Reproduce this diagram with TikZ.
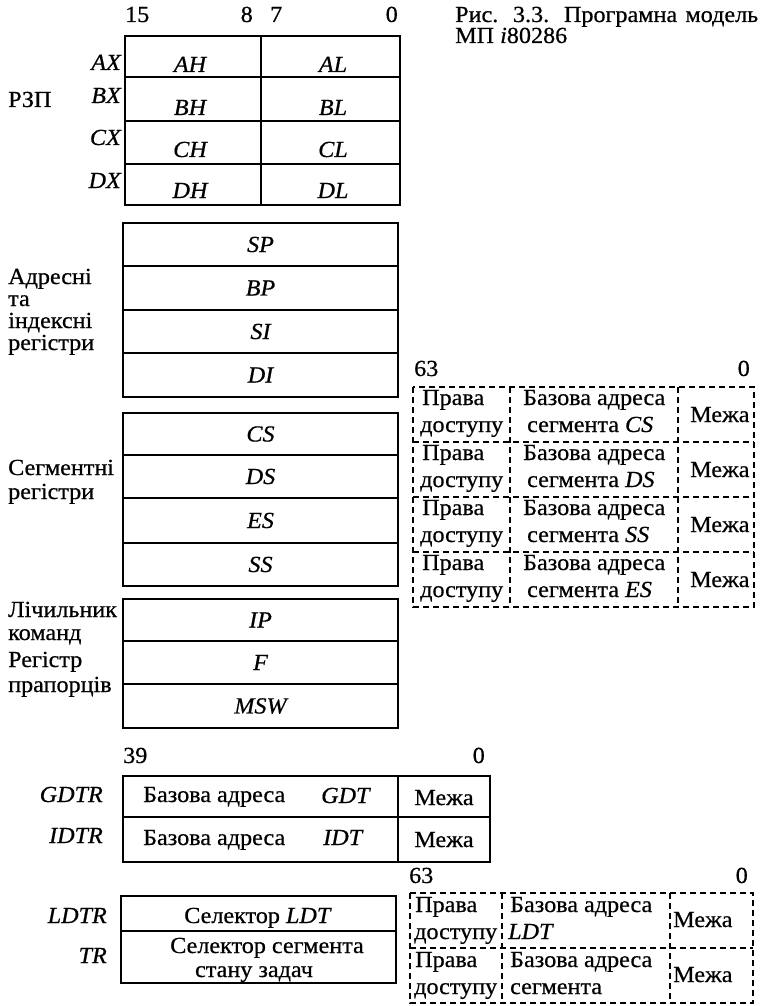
\documentclass[tikz,border=0pt]{standalone}
\usepackage{fontspec}
\setmainfont{Liberation Serif}[FakeStretch=1.05,FakeBold=0.6]
\newcommand\fsz{\fontsize{23}{26}\selectfont}
\begin{document}
\begin{tikzpicture}[x=1pt,y=-1pt,
  every node/.style={inner sep=0pt,font=\fsz},
  txt/.style={anchor=base west},
  txte/.style={anchor=base east},
  txtc/.style={anchor=base},
  reg/.style={font=\fsz\itshape},
  box/.style={line width=1.6pt},
  dbox/.style={line width=1.3pt,dash pattern=on 6pt off 4pt}]
\useasboundingbox (0,0) rectangle (762,1006);
% caption
\node[txt] (cap1) at (455,22) {\makebox[303pt][s]{Рис. 3.3. Програмна модель}};
\node[txt] (cap2) at (455,43) {МП \textit{i}80286};
% bit numbers
\node[txt] (b15) at (125,22) {15};
\node[txte] (b8) at (253,22) {8};
\node[txt] (b7) at (270,22) {7};
\node[txte] (b0) at (398,22) {0};
% general purpose registers
\draw[box] (125,36) rectangle (400,205);
\foreach \y in {77,121,164} \draw[box] (125,\y) -- (400,\y);
\draw[box] (261,36) -- (261,205);
\node[txtc,reg] (AH) at (190,72) {AH};
\node[txtc,reg] (AL) at (333,72) {AL};
\node[txtc,reg] (BH) at (190,115) {BH};
\node[txtc,reg] (BL) at (333,115) {BL};
\node[txtc,reg] (CH) at (190,157) {CH};
\node[txtc,reg] (CL) at (333,157) {CL};
\node[txtc,reg] (DH) at (190,198) {DH};
\node[txtc,reg] (DL) at (333,198) {DL};
\node[txte,reg] (AX) at (121,70) {AX};
\node[txte,reg] (BX) at (121,103) {BX};
\node[txte,reg] (CX) at (121,145) {CX};
\node[txte,reg] (DX) at (121,188) {DX};
\node[txt] (rzp) at (8,107) {РЗП};
% address and index registers
\draw[box] (123,223) rectangle (398,397);
\foreach \y in {266,310,353} \draw[box] (123,\y) -- (398,\y);
\node[reg] (SP) at (260.5,244.5) {SP};
\node[reg] (BP) at (260.5,288) {BP};
\node[reg] (SI) at (260.5,331.5) {SI};
\node[reg] (DI) at (260.5,375) {DI};
\node[txt] (adr1) at (8,284) {Адресні};
\node[txt] (adr2) at (8,306) {та};
\node[txt] (adr3) at (8,328) {індексні};
\node[txt] (adr4) at (8,350) {регістри};
% segment registers
\draw[box] (123,413) rectangle (398,586);
\foreach \y in {455,498,543} \draw[box] (123,\y) -- (398,\y);
\node[reg] (CS) at (260.5,434) {CS};
\node[reg] (DS) at (260.5,476.5) {DS};
\node[reg] (ES) at (260.5,520.5) {ES};
\node[reg] (SS) at (260.5,564.5) {SS};
\node[txt] (seg1) at (8,475) {Сегментні};
\node[txt] (seg2) at (8,499) {регістри};
% IP, F, MSW
\draw[box] (123,599) rectangle (398,728);
\foreach \y in {641,684} \draw[box] (123,\y) -- (398,\y);
\node[reg] (IP) at (260.5,620) {IP};
\node[reg] (F) at (260.5,662.5) {F};
\node[reg] (MSW) at (260.5,706) {MSW};
\node[txt] (lic1) at (8,617) {Лічильник};
\node[txt] (lic2) at (8,640) {команд};
\node[txt] (flg1) at (8,667) {Регістр};
\node[txt] (flg2) at (8,692) {прапорців};
% GDTR / IDTR
\node[txt] (b39) at (123,763) {39};
\node[txte] (b0g) at (485,763) {0};
\draw[box] (123,776) rectangle (490,862);
\draw[box] (123,817) -- (490,817);
\draw[box] (398,776) -- (398,862);
\node[txt] (gba) at (143,802) {Базова адреса};
\node[txt,reg] (gdt) at (321,803) {GDT};
\node[txtc] (gm) at (444,805) {Межа};
\node[txt] (iba) at (143,845) {Базова адреса};
\node[txt,reg] (idt) at (323,845) {IDT};
\node[txtc] (im) at (444,847) {Межа};
\node[txte,reg] (GDTR) at (103,802) {GDTR};
\node[txte,reg] (IDTR) at (103,843) {IDTR};
% LDTR / TR
\draw[box] (121,896) rectangle (396,983);
\draw[box] (121,931) -- (396,931);
\node[txtc] (sl) at (258,923) {Селектор \textit{LDT}};
\node[txtc] (ss1) at (267,953) {Селектор сегмента};
\node[txtc] (ss2) at (254,977) {стану задач};
\node[txte,reg] (LDTR) at (107,923) {LDTR};
\node[txte,reg] (TR) at (107,963) {TR};
% upper descriptor cache (dashed)
\node[txt] (u63) at (414,376) {63};
\node[txte] (u0) at (750,376) {0};
\draw[dbox] (413,387) rectangle (754,607);
\foreach \y in {442,497,552} \draw[dbox] (413,\y) -- (754,\y);
\foreach \x in {510,678} \draw[dbox] (\x,387) -- (\x,607);
\foreach \T/\s [count=\i] in {387/CS,442/DS,497/SS,552/ES} {
  \node[txt] (up\i) at (422,\T+18) {Права};
  \node[txt] (ud\i) at (420,\T+45) {доступу};
  \node[txt] (ub\i) at (523,\T+18) {Базова адреса};
  \node[txt] (us\i) at (527,\T+45) {сегмента \textit{\s}};
  \node[txt] (um\i) at (690,\T+35) {Межа};
}
% lower descriptor cache (dashed)
\node[txt] (l63) at (409,883) {63};
\node[txte] (l0) at (748,883) {0};
\draw[dbox] (410,893) rectangle (753,1003);
\draw[dbox] (410,948) -- (753,948);
\foreach \x in {502,670} \draw[dbox] (\x,893) -- (\x,1003);
\node[txt] (lp1) at (415,912) {Права};
\node[txt] (ld1) at (414,939) {доступу};
\node[txt] (lb1) at (510,912) {Базова адреса};
\node[txt,reg] (ll1) at (508,939) {LDT};
\node[txt] (lm1) at (673,927) {Межа};
\node[txt] (lp2) at (415,967) {Права};
\node[txt] (ld2) at (414,994) {доступу};
\node[txt] (lb2) at (510,967) {Базова адреса};
\node[txt] (ls2) at (510,994) {сегмента};
\node[txt] (lm2) at (673,982) {Межа};
\end{tikzpicture}
\end{document}
